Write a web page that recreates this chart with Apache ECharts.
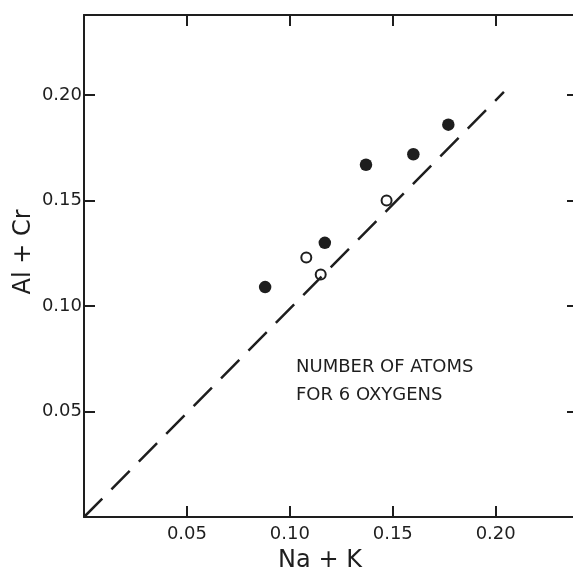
<!DOCTYPE html>
<html>
<head>
<meta charset="utf-8">
<script src="https://cdn.jsdelivr.net/npm/echarts@6/dist/echarts.min.js"></script>
<style>
html,body{margin:0;padding:0;background:#fff;}
#chart{width:573px;height:573px;}
</style>
</head>
<body>
<div id="chart"></div>
<script>
// Data
const xTickValues = [0.05, 0.10, 0.15, 0.20];
const yTickValues = [0.05, 0.10, 0.15, 0.20];
const filledX = [0.088, 0.117, 0.137, 0.160, 0.177];
const filledY = [0.109, 0.130, 0.167, 0.172, 0.186];
const openX = [0.108, 0.115, 0.147];
const openY = [0.123, 0.115, 0.150];
const refLineX = [0, 0.204];
const refLineY = [0, 0.2015];
const xName = 'Na + K';
const yName = 'Al + Cr';
const noteLines = ['NUMBER OF ATOMS', 'FOR 6 OXYGENS'];

const ink = '#1e1e1e';
const font = 'DejaVu Sans';
const fmt = v => xTickValues.some(t => Math.abs(t - v) < 1e-9) ? v.toFixed(2) : '';
const fmtY = v => yTickValues.some(t => Math.abs(t - v) < 1e-9) ? v.toFixed(2) : '';

const chart = echarts.init(document.getElementById('chart'), null, {renderer: 'canvas'});
const axisCommon = {
  type: 'value', min: 0, interval: 0.05,
  splitLine: {show: false},
  axisLine: {show: true, onZero: false, lineStyle: {color: ink, width: 2}},
  axisTick: {show: true, inside: true, length: 11, lineStyle: {color: ink, width: 2}}
};
chart.setOption({
  animation: false,
  backgroundColor: '#fff',
  grid: {left: 84, top: 15, width: 494, height: 502, containLabel: false, outerBoundsMode: 'none'},
  xAxis: [
    Object.assign({}, axisCommon, {max: 0.24, position: 'bottom',
      axisLabel: {show: true, formatter: fmt, color: ink, fontFamily: font, fontSize: 18, margin: 8}}),
    Object.assign({}, axisCommon, {max: 0.24, position: 'top', axisLabel: {show: false}})
  ],
  yAxis: [
    Object.assign({}, axisCommon, {max: 0.238, position: 'left',
      axisLabel: {show: true, formatter: fmtY, color: ink, fontFamily: font, fontSize: 18, margin: 2}}),
    Object.assign({}, axisCommon, {max: 0.238, position: 'right', axisLabel: {show: false}})
  ],
  series: [
    {
      type: 'line', xAxisIndex: 0, yAxisIndex: 0,
      data: refLineX.map((x, i) => [x, refLineY[i]]),
      symbol: 'none',
      lineStyle: {color: ink, width: 2.5, type: [26, 13]}
    },
    {
      type: 'scatter', xAxisIndex: 0, yAxisIndex: 0,
      data: filledX.map((x, i) => [x, filledY[i]]),
      symbol: 'circle', symbolSize: 12.5,
      itemStyle: {color: ink, opacity: 1}
    },
    {
      type: 'scatter', xAxisIndex: 0, yAxisIndex: 0,
      data: openX.map((x, i) => [x, openY[i]]),
      symbol: 'circle', symbolSize: 10,
      itemStyle: {color: '#fff', borderColor: ink, borderWidth: 2, opacity: 1}
    }
  ],
  graphic: [
    {type: 'text', x: 320, y: 561,
      style: {text: xName, fill: ink, font: '24px "DejaVu Sans"', textAlign: 'center', textVerticalAlign: 'middle'}},
    {type: 'text', x: 24, y: 252, rotation: Math.PI / 2,
      style: {text: yName, fill: ink, font: '24px "DejaVu Sans"', textAlign: 'center', textVerticalAlign: 'middle'}},
    {type: 'text', x: 296, y: 367,
      style: {text: noteLines[0], fill: ink, font: '18px "DejaVu Sans"', textAlign: 'left', textVerticalAlign: 'middle'}},
    {type: 'text', x: 296, y: 395,
      style: {text: noteLines[1], fill: ink, font: '18px "DejaVu Sans"', textAlign: 'left', textVerticalAlign: 'middle'}}
  ]
});
</script>
</body>
</html>
